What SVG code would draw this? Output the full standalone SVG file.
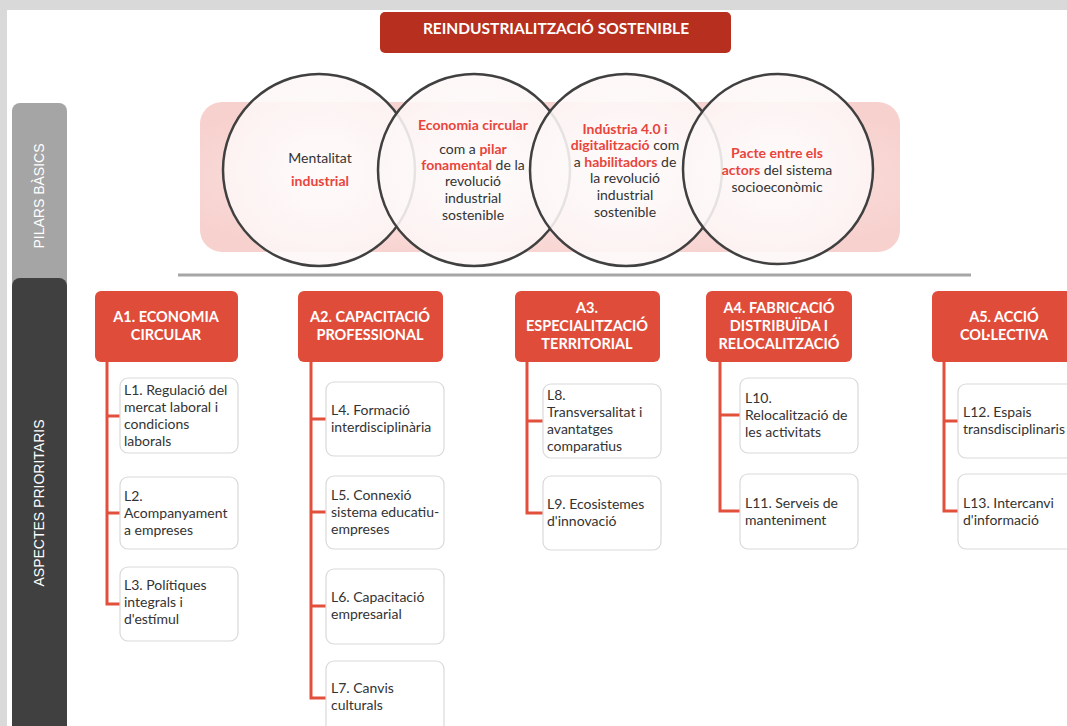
<svg xmlns="http://www.w3.org/2000/svg" width="1067" height="726" viewBox="0 0 1067 726">
<defs>
<radialGradient id="pinkG" cx="0.5" cy="0.5" r="0.6">
<stop offset="0" stop-color="#fcebea"/>
<stop offset="1" stop-color="#f7d1ce"/>
</radialGradient>
<radialGradient id="circG" cx="0.5" cy="0.5" r="0.5">
<stop offset="0" stop-color="#ffffff"/>
<stop offset="1" stop-color="#fdf6f6"/>
</radialGradient>
<style>
.circ{fill:url(#circG);fill-opacity:0.88;stroke:#404040;stroke-width:2.5}
.ct{font-family:Lato,"Liberation Sans",sans-serif;font-size:14px;fill:#333333;text-anchor:middle}
.r{fill:#e8453c;font-weight:bold}
.abox{fill:#e04c3a}
.at{font-family:Lato,"Liberation Sans",sans-serif;font-size:14.5px;font-weight:bold;fill:#ffffff;text-anchor:middle}
.lbox{fill:#ffffff;stroke:#d9d9d9;stroke-width:1.2}
.lt{font-family:Lato,"Liberation Sans",sans-serif;font-size:14px;fill:#333333}
.conn{fill:none;stroke:#e2503c;stroke-width:3}
.tab{font-family:"Liberation Sans",Arial,sans-serif;font-size:14px;fill:#ffffff;text-anchor:middle}
</style>
</defs>
<rect x="0" y="0" width="1067" height="726" fill="#d9d9d9"/>
<rect x="7" y="10" width="1060" height="716" fill="#ffffff"/>

<g id="title">
<rect x="380" y="12" width="351" height="41" rx="5" fill="#b72f1e"/>
<text x="556" y="34" font-family="Lato,'Liberation Sans',sans-serif" font-size="15.5" font-weight="bold" fill="#ffffff" text-anchor="middle">REINDUSTRIALITZACIÓ SOSTENIBLE</text>
</g>

<g id="tab-pilars">
<rect x="12" y="103" width="55" height="200" rx="8" fill="#a5a5a5"/>
<text class="tab" transform="translate(44,196) rotate(-90)">PILARS BÀSICS</text>
</g>
<g id="tab-aspectes">
<rect x="12" y="278" width="55" height="470" rx="8" fill="#404040"/>
<text class="tab" transform="translate(44,503) rotate(-90)">ASPECTES PRIORITARIS</text>
</g>

<g id="pilars-band">
<rect x="200" y="102" width="700" height="150" rx="22" fill="url(#pinkG)"/>
</g>

<g id="pilar1">
<circle class="circ" cx="319" cy="170" r="96"/>
</g>
<g id="pilar2">
<circle class="circ" cx="474" cy="170" r="96"/>
</g>
<g id="pilar3">
<circle class="circ" cx="626" cy="170" r="96"/>
</g>
<g id="pilar4">
<circle class="circ" cx="778" cy="169" r="95"/>
</g>

<g id="pilar-texts">
<text class="ct" x="320" y="163">Mentalitat</text>
<text class="ct r" x="320" y="186">industrial</text>

<text class="ct r" x="473" y="130">Economia circular</text>
<text class="ct" x="473" y="154">com a <tspan class="r">pilar</tspan></text>
<text class="ct" x="473" y="170"><tspan class="r">fonamental</tspan> de la</text>
<text class="ct" x="473" y="186">revolució</text>
<text class="ct" x="473" y="203">industrial</text>
<text class="ct" x="473" y="220">sostenible</text>

<text class="ct r" x="625" y="134">Indústria 4.0 i</text>
<text class="ct" x="625" y="150"><tspan class="r">digitalització</tspan> com</text>
<text class="ct" x="625" y="167">a <tspan class="r">habilitadors</tspan> de</text>
<text class="ct" x="625" y="183">la revolució</text>
<text class="ct" x="625" y="200">industrial</text>
<text class="ct" x="625" y="217">sostenible</text>

<text class="ct r" x="777" y="158">Pacte entre els</text>
<text class="ct" x="777" y="175"><tspan class="r">actors</tspan> del sistema</text>
<text class="ct" x="777" y="192">socioeconòmic</text>
</g>

<line x1="178" y1="275" x2="971" y2="275" stroke="#a6a6a6" stroke-width="3"/>

<g id="connectors">
<path class="conn" d="M107,362 V604 H120 M107,416 H120 M107,513 H120"/>
<path class="conn" d="M311,362 V698 H326 M311,419 H326 M311,512 H326 M311,606 H326"/>
<path class="conn" d="M527,362 V513 H543 M527,421 H543"/>
<path class="conn" d="M720,362 V511 H740 M720,415 H740"/>
<path class="conn" d="M944,362 V511 H958 M944,421 H958"/>
</g>

<g id="A1">
<rect class="abox" x="95" y="291" width="143" height="71" rx="6"/>
<text class="at" x="166" y="322">A1. ECONOMIA</text>
<text class="at" x="166" y="340">CIRCULAR</text>
</g>
<g id="A2">
<rect class="abox" x="298" y="291" width="145" height="71" rx="6"/>
<text class="at" x="370" y="322">A2. CAPACITACIÓ</text>
<text class="at" x="370" y="340">PROFESSIONAL</text>
</g>
<g id="A3">
<rect class="abox" x="515" y="291" width="145" height="71" rx="6"/>
<text class="at" x="587" y="313">A3.</text>
<text class="at" x="587" y="331">ESPECIALITZACIÓ</text>
<text class="at" x="587" y="349">TERRITORIAL</text>
</g>
<g id="A4">
<rect class="abox" x="706" y="291" width="146" height="71" rx="6"/>
<text class="at" x="779" y="313">A4. FABRICACIÓ</text>
<text class="at" x="779" y="331">DISTRIBUÏDA I</text>
<text class="at" x="779" y="349">RELOCALITZACIÓ</text>
</g>
<g id="A5">
<rect class="abox" x="932" y="291" width="145" height="71" rx="6"/>
<text class="at" x="1004" y="322">A5. ACCIÓ</text>
<text class="at" x="1004" y="340">COL·LECTIVA</text>
</g>

<g id="L1">
<rect class="lbox" x="120" y="378" width="118" height="75" rx="8"/>
<text class="lt" x="124" y="395">L1. Regulació del</text>
<text class="lt" x="124" y="412">mercat laboral i</text>
<text class="lt" x="124" y="429">condicions</text>
<text class="lt" x="124" y="446">laborals</text>
</g>
<g id="L2">
<rect class="lbox" x="120" y="477" width="118" height="72" rx="8"/>
<text class="lt" x="124" y="501">L2.</text>
<text class="lt" x="124" y="518">Acompanyament</text>
<text class="lt" x="124" y="535">a empreses</text>
</g>
<g id="L3">
<rect class="lbox" x="120" y="567" width="118" height="74" rx="8"/>
<text class="lt" x="124" y="590">L3. Polítiques</text>
<text class="lt" x="124" y="607">integrals i</text>
<text class="lt" x="124" y="624">d'estímul</text>
</g>
<g id="L4">
<rect class="lbox" x="326" y="382" width="118" height="74" rx="8"/>
<text class="lt" x="331" y="415">L4. Formació</text>
<text class="lt" x="331" y="432">interdisciplinària</text>
</g>
<g id="L5">
<rect class="lbox" x="326" y="476" width="118" height="73" rx="8"/>
<text class="lt" x="331" y="500">L5. Connexió</text>
<text class="lt" x="331" y="517">sistema educatiu-</text>
<text class="lt" x="331" y="534">empreses</text>
</g>
<g id="L6">
<rect class="lbox" x="326" y="569" width="118" height="75" rx="8"/>
<text class="lt" x="331" y="602">L6. Capacitació</text>
<text class="lt" x="331" y="619">empresarial</text>
</g>
<g id="L7">
<rect class="lbox" x="326" y="661" width="118" height="80" rx="8"/>
<text class="lt" x="331" y="693">L7. Canvis</text>
<text class="lt" x="331" y="710">culturals</text>
</g>
<g id="L8">
<rect class="lbox" x="543" y="384" width="118" height="74" rx="8"/>
<text class="lt" x="547" y="400">L8.</text>
<text class="lt" x="547" y="417">Transversalitat i</text>
<text class="lt" x="547" y="434">avantatges</text>
<text class="lt" x="547" y="451">comparatius</text>
</g>
<g id="L9">
<rect class="lbox" x="543" y="476" width="118" height="74" rx="8"/>
<text class="lt" x="547" y="509">L9. Ecosistemes</text>
<text class="lt" x="547" y="526">d'innovació</text>
</g>
<g id="L10">
<rect class="lbox" x="740" y="378" width="118" height="75" rx="8"/>
<text class="lt" x="745" y="403">L10.</text>
<text class="lt" x="745" y="420">Relocalització de</text>
<text class="lt" x="745" y="437">les activitats</text>
</g>
<g id="L11">
<rect class="lbox" x="740" y="474" width="118" height="75" rx="8"/>
<text class="lt" x="745" y="508">L11. Serveis de</text>
<text class="lt" x="745" y="525">manteniment</text>
</g>
<g id="L12">
<rect class="lbox" x="958" y="384" width="118" height="74" rx="8"/>
<text class="lt" x="963" y="417">L12. Espais</text>
<text class="lt" x="963" y="434">transdisciplinaris</text>
</g>
<g id="L13">
<rect class="lbox" x="958" y="474" width="118" height="75" rx="8"/>
<text class="lt" x="963" y="508">L13. Intercanvi</text>
<text class="lt" x="963" y="525">d'informació</text>
</g>
</svg>
